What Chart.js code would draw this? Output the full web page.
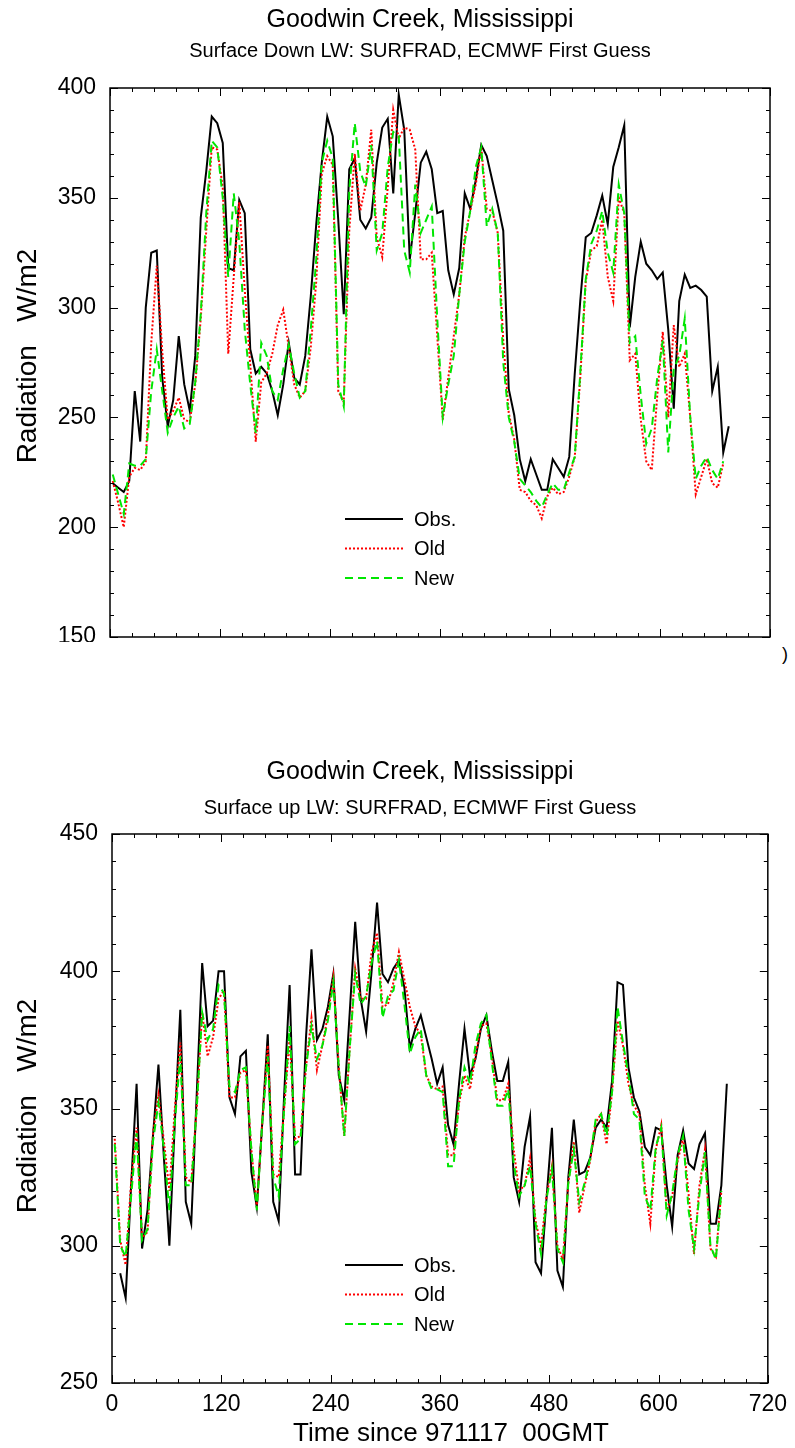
<!doctype html>
<html lang="en">
  <head>
    <meta charset="UTF-8" />
    <title>Goodwin Creek, Mississippi - Surface LW</title>
    <script src="https://cdn.jsdelivr.net/npm/chart.js@4.4.0/dist/chart.umd.min.js"></script>
    <style>
      body { margin: 0; background: #fff; }
      .wrap { position: relative; width: 795px; height: 1448px; }
      .clip { position: absolute; left: 0; top: 0; width: 795px; height: 642px; overflow: hidden; }
      canvas { position: absolute; left: 0; top: 0; }
      #upChart { top: 700px; }
      .stray { position: absolute; left: 782px; top: 644px; font: 18px "Liberation Sans", Arial, sans-serif; }
    </style>
  </head>
  <body>
    <div class="wrap">
      <div class="clip"><canvas id="downChart" width="795" height="700"></canvas></div>
      <span class="stray">)</span>
      <canvas id="upChart" width="795" height="748"></canvas>
    </div>
    <script>
// hours since 971117 00GMT (6-hourly)
const hours = [3,9,15,21,27,33,39,45,51,57,63,69,75,81,87,93,99,105,111,117,123,129,135,141,147,153,159,165,171,177,
  183,189,195,201,207,213,219,225,231,237,243,249,255,261,267,273,279,285,291,297,303,309,315,321,327,333,339,345,351,357,
  363,369,375,381,387,393,399,405,411,417,423,429,435,441,447,453,459,465,471,477,483,489,495,501,507,513,519,525,531,537,
  543,549,555,561,567,573,579,585,591,597,603,609,615,621,627,633,639,645,651,657,663,669,675];

// Surface down LW
const downObs = [220,218,216,221,262,239,300,325,326,268,
  246,258,287,265,253,278,341,362,387,384,
  375,318,317,349,343,281,270,273,270,262,
  251,265,284,268,265,278,305,338,366,387,
  378,340,297,363,368,340,336,341,366,382,
  386,352,397,381,322,343,366,371,363,343,
  344,317,306,318,352,345,358,374,369,358,
  347,335,263,251,231,221,231,224,217,217,
  231,227,223,232,270,303,332,334,342,351,
  338,364,373,383,291,314,330,320,317,313,
  316,290,254,303,315,309,310,308,305,262,
  273,234,246];
const downOld = [221,211,200,223,227,226,230,284,319,280,
  249,253,259,249,248,265,295,335,373,372,
  355,279,314,348,308,274,239,266,270,279,
  292,299,282,265,259,262,282,312,361,369,
  365,262,257,335,370,344,356,381,332,323,
  355,390,377,382,381,372,322,322,325,287,
  249,268,287,306,332,344,356,373,345,344,
  334,285,252,240,217,216,212,210,204,214,
  218,215,216,223,232,268,312,326,328,340,
  314,303,350,343,276,279,249,230,226,260,
  289,250,292,273,279,250,215,223,231,220,
  218,229];
const downNew = [224,215,206,229,228,228,231,262,281,262,
  243,250,255,245,247,266,297,343,376,373,
  350,314,352,330,290,265,243,284,278,262,
  258,272,283,270,259,262,290,322,366,376,
  368,265,255,353,384,362,355,374,326,334,
  364,380,378,326,316,356,334,340,346,295,
  250,265,278,306,330,344,364,373,337,345,
  334,275,250,239,222,219,216,212,209,215,
  220,217,217,225,232,270,313,329,335,344,
  325,316,356,343,284,287,260,238,245,268,
  285,234,272,278,295,250,222,228,232,226,
  222,230];

// Surface up LW
const upObs = [null,290,281,322,359,299,313,340,366,332,
  300,345,386,316,308,355,403,380,382,400,
  400,354,348,369,371,327,314,345,377,316,
  309,355,395,326,326,376,408,375,379,387,
  399,362,353,385,418,390,378,400,425,399,
  396,401,404,394,372,379,384,376,368,359,
  365,344,337,359,379,362,368,379,384,371,
  360,360,367,325,316,336,347,294,290,317,
  343,291,285,325,346,326,327,332,343,346,
  343,360,396,395,365,354,349,336,333,343,
  342,322,307,333,342,330,328,337,341,308,
  308,322,359];
const upOld = [339,302,293,323,343,303,305,341,355,338,
  320,350,374,325,323,350,385,369,376,390,
  393,354,354,363,364,335,314,345,373,326,
  325,350,376,339,340,365,383,364,373,384,
  398,365,340,372,401,390,390,407,414,387,
  388,396,407,397,387,380,377,362,358,357,
  358,333,333,352,362,357,369,380,381,369,
  353,353,359,335,320,322,332,309,300,318,
  329,300,295,323,338,312,322,331,345,348,
  337,356,382,373,359,351,348,322,308,335,
  344,313,318,331,339,319,297,322,335,299,
  296,320];
const upNew = [337,300,296,318,341,302,306,338,352,335,
  313,345,369,322,322,350,385,375,379,395,
  392,358,356,364,365,335,313,345,369,325,
  318,350,380,337,339,365,380,368,373,382,
  396,365,340,372,399,388,391,403,411,383,
  391,393,404,388,370,376,379,362,357,357,
  356,329,329,353,365,359,373,381,384,367,
  351,351,357,330,318,322,329,308,297,317,
  328,299,294,323,335,316,323,332,346,348,
  340,356,387,374,362,348,346,318,313,336,
  343,311,319,333,340,313,299,319,334,300,
  295,320];

const seriesNames = ['Obs.', 'Old', 'New'];
const FONT = '"Liberation Sans", Arial, sans-serif';

function pts(arr) {
    return arr.map((v, i) => ({ x: hours[i], y: v }));
}

function makeSets(obs, old, nw) {
    return [
        { label: seriesNames[0], data: pts(obs), borderColor: '#000000', borderWidth: 2, order: 3 },
        { label: seriesNames[1], data: pts(old), borderColor: '#ff0000', borderWidth: 2, borderDash: [2, 2], order: 2 },
        { label: seriesNames[2], data: pts(nw), borderColor: '#00e600', borderWidth: 2, borderDash: [8, 5], order: 1 }
    ];
}

// frame, inner ticks, titles and legend
const decor = {
    id: 'decor',
    afterDraw(chart, args, o) {
        const { ctx, chartArea: a } = chart;
        const x = chart.scales.x, y = chart.scales.y;
        ctx.save();
        ctx.strokeStyle = '#000';
        ctx.lineWidth = 1.5;
        ctx.strokeRect(a.left, a.top, a.right - a.left, a.bottom - a.top);

        ctx.lineWidth = 1;
        ctx.beginPath();
        for (let t = x.min; t <= x.max; t += 24) {
            const px = Math.round(x.getPixelForValue(t)) + 0.5;
            const len = t % 120 === 0 ? 8 : 4;
            ctx.moveTo(px, a.bottom); ctx.lineTo(px, a.bottom - len);
            ctx.moveTo(px, a.top); ctx.lineTo(px, a.top + len);
        }
        for (let v = y.min; v <= y.max; v += 10) {
            const py = Math.round(y.getPixelForValue(v)) + 0.5;
            const len = v % 50 === 0 ? 8 : 4;
            ctx.moveTo(a.left, py); ctx.lineTo(a.left + len, py);
            ctx.moveTo(a.right, py); ctx.lineTo(a.right - len, py);
        }
        ctx.stroke();

        ctx.fillStyle = '#000';
        ctx.textAlign = 'center';
        ctx.textBaseline = 'alphabetic';
        ctx.font = '25px ' + FONT;
        ctx.fillText(o.title, 420, o.titleY);
        ctx.font = '20px ' + FONT;
        ctx.fillText(o.subtitle, 420, o.subtitleY);

        ctx.save();
        ctx.font = '28px ' + FONT;
        ctx.translate(36, o.ylabelY);
        ctx.rotate(-Math.PI / 2);
        ctx.fillText('Radiation   W/m2', 0, 0);
        ctx.restore();

        if (o.xlabel) {
            ctx.font = '26px ' + FONT;
            ctx.fillText(o.xlabel, 451, o.xlabelY);
        }

        // legend
        ctx.textAlign = 'left';
        ctx.textBaseline = 'middle';
        ctx.font = '20px ' + FONT;
        chart.data.datasets.forEach((ds, i) => {
            const ly = o.legendY + i * 29.5;
            ctx.beginPath();
            ctx.strokeStyle = ds.borderColor;
            ctx.lineWidth = ds.borderWidth;
            ctx.setLineDash(ds.borderDash || []);
            ctx.moveTo(345, ly); ctx.lineTo(403, ly);
            ctx.stroke();
            ctx.setLineDash([]);
            ctx.fillText(ds.label, 414, ly + 1);
        });
        ctx.restore();
    }
};

function axisOpts(min, max, step, showLabels, fitSize) {
    return {
        type: 'linear', min: min, max: max,
        ticks: { stepSize: step, display: showLabels, color: '#000', font: { family: FONT, size: 23 }, padding: 8, maxRotation: 0 },
        grid: { display: false, drawTicks: false },
        border: { display: false },
        afterFit(s) { if (s.isHorizontal()) s.height = fitSize; else s.width = fitSize; }
    };
}

function yOpts(min, max) {
    const o = axisOpts(min, max, 50, true, 0);
    o.ticks.padding = 14;
    return o;
}

const downCfg = {
    type: 'line',
    data: { datasets: makeSets(downObs, downOld, downNew) },
    options: {
        responsive: false, animation: false,
        layout: { padding: { top: 88, right: 25, left: 0, bottom: 0 } },
        elements: { point: { radius: 0 }, line: { tension: 0 } },
        plugins: {
            legend: { display: false }, tooltip: { enabled: false },
            decor: {
                title: 'Goodwin Creek, Mississippi', titleY: 27,
                subtitle: 'Surface Down LW: SURFRAD, ECMWF First Guess', subtitleY: 57,
                ylabelY: 356, legendY: 519
            }
        },
        scales: { x: axisOpts(0, 720, 120, false, 63), y: yOpts(150, 400) }
    },
    plugins: [decor]
};
downCfg.options.scales.y.afterFit = s => { s.width = 110; };

const upCfg = {
    type: 'line',
    data: { datasets: makeSets(upObs, upOld, upNew) },
    options: {
        responsive: false, animation: false,
        layout: { padding: { top: 134, right: 22, left: 0, bottom: 0 } },
        elements: { point: { radius: 0 }, line: { tension: 0 } },
        plugins: {
            legend: { display: false }, tooltip: { enabled: false },
            decor: {
                title: 'Goodwin Creek, Mississippi', titleY: 79,
                subtitle: 'Surface up LW: SURFRAD, ECMWF First Guess', subtitleY: 114,
                ylabelY: 406, legendY: 565,
                xlabel: 'Time since 971117  00GMT', xlabelY: 741
            }
        },
        scales: { x: axisOpts(0, 720, 120, true, 65), y: yOpts(250, 450) }
    },
    plugins: [decor]
};
upCfg.options.scales.y.afterFit = s => { s.width = 112; };

new Chart(document.getElementById('downChart'), downCfg);
new Chart(document.getElementById('upChart'), upCfg);
    </script>
  </body>
</html>
